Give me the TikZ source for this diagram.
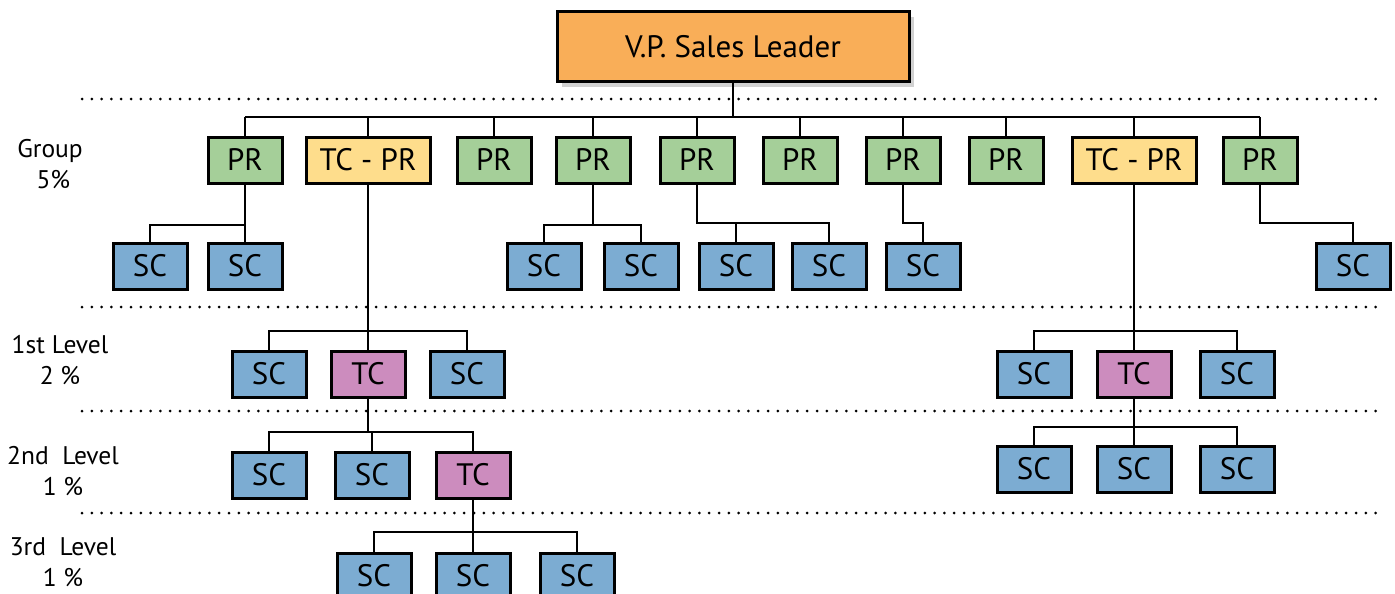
\documentclass[tikz,border=0pt]{standalone}
\usepackage{fontspec}
\setmainfont{PT Sans}
\usetikzlibrary{shadows}
\definecolor{vporange}{RGB}{249,174,88}
\definecolor{prgreen}{RGB}{165,207,153}
\definecolor{tcyellow}{RGB}{254,221,140}
\definecolor{scblue}{RGB}{124,172,210}
\definecolor{tcpink}{RGB}{204,140,190}
\tikzset{
  box/.style={draw=black, line width=3pt, inner sep=0pt, minimum height=46pt,
    font=\fontsize{31}{34}\selectfont, text=black},
  prbox/.style={box, fill=prgreen, minimum width=74pt},
  tcprbox/.style={box, fill=tcyellow, minimum width=124pt},
  scbox/.style={box, fill=scblue, minimum width=74pt},
  tcbox/.style={box, fill=tcpink, minimum width=74pt},
  vpbox/.style={box, fill=vporange, minimum width=352pt, minimum height=70pt,
    drop shadow={opacity=0.3, shadow xshift=5pt, shadow yshift=-5pt, fill=black!60}},
  conn/.style={draw=black, line width=2.8pt},
  dots/.style={draw=black, line width=3pt, line cap=round, dash pattern=on 0pt off 9.8pt},
  lvl/.style={font=\fontsize{25.5}{31}\selectfont, align=center, inner sep=0pt}
}
\begin{document}
\begin{tikzpicture}[x=1pt,y=-1pt]
\useasboundingbox (0,0) rectangle (1395,594);
% dotted level separators
\coordinate (d1a) at (82,99);   \coordinate (d1b) at (1385,99);
\coordinate (d2a) at (82,307);  \coordinate (d2b) at (1385,307);
\coordinate (d3a) at (82,411);  \coordinate (d3b) at (1385,411);
\coordinate (d4a) at (82,513);  \coordinate (d4b) at (1385,513);
\draw[dots] (d1a) -- (d1b);
\draw[dots] (d2a) -- (d2b);
\draw[dots] (d3a) -- (d3b);
\draw[dots] (d4a) -- (d4b);

% level labels
\node[lvl] (lg) at (50,164) {Group\\\ 5\%};
\node[lvl] (l1) at (60,360) {1st Level\\2 \%};
\node[lvl] (l2) at (63,471) {2nd\ \ Level\\1 \%};
\node[lvl] (l3) at (63,562) {3rd\ \ Level\\1 \%};

% bus coordinates
\coordinate (bus0) at (0,117);
\coordinate (bA) at (0,225);
\coordinate (bB) at (0,223);
\coordinate (bC) at (0,331);
\coordinate (bD) at (0,432);
\coordinate (bE) at (0,532);
\coordinate (bF) at (0,427);

% top
\node[vpbox] (vp) at (733,47) {V.P. Sales Leader};

% group row
\node[prbox] (p1) at (245,160) {PR};
\node[tcprbox] (t1) at (368,160) {TC - PR};
\node[prbox] (p2) at (494,160) {PR};
\node[prbox] (p3) at (593,160) {PR};
\node[prbox] (p4) at (697,160) {PR};
\node[prbox] (p5) at (800,160) {PR};
\node[prbox] (p6) at (903,160) {PR};
\node[prbox] (p7) at (1006,160) {PR};
\node[tcprbox] (t2) at (1134,160) {TC - PR};
\node[prbox] (p8) at (1260,160) {PR};

% group SC row
\node[scbox] (s1) at (150,266) {SC};
\node[scbox] (s2) at (245,266) {SC};
\node[scbox] (s3) at (544,266) {SC};
\node[scbox] (s4) at (641,266) {SC};
\node[scbox] (s5) at (736,266) {SC};
\node[scbox] (s6) at (829,266) {SC};
\node[scbox] (s7) at (923,266) {SC};
\node[scbox] (s8) at (1353,266) {SC};

% 1st level
\node[scbox] (a1) at (269,374) {SC};
\node[tcbox] (a2) at (368,374) {TC};
\node[scbox] (a3) at (467,374) {SC};
\node[scbox] (a4) at (1034,374) {SC};
\node[tcbox] (a5) at (1134,374) {TC};
\node[scbox] (a6) at (1237,374) {SC};

% 2nd level
\node[scbox] (c1) at (269,475) {SC};
\node[scbox] (c2) at (372,475) {SC};
\node[tcbox] (c3) at (473,475) {TC};
\node[scbox] (c4) at (1034,469) {SC};
\node[scbox] (c5) at (1134,469) {SC};
\node[scbox] (c6) at (1237,469) {SC};

% 3rd level
\node[scbox] (e1) at (374,576) {SC};
\node[scbox] (e2) at (473,576) {SC};
\node[scbox] (e3) at (577,576) {SC};

% connectors: top bus
\draw[conn] (vp.south) -- (vp.south |- bus0);
\draw[conn] (p1.north |- bus0) -- (p8.north |- bus0);
\foreach \n in {p1,t1,p2,p3,p4,p5,p6,p7,t2,p8}
  \draw[conn] (\n.north) -- (\n.north |- bus0);

% PR -> SC
\draw[conn] (p1.south) -- (s2.north);
\draw[conn] (p1.south |- bA) -| (s1.north);
\draw[conn] (p3.south) -- (p3.south |- bA);
\draw[conn] (s3.north) |- (s4.north |- bA) -- (s4.north);
\draw[conn] (p4.south) |- (s6.north |- bB) -- (s6.north);
\draw[conn] (s5.north) -- (s5.north |- bB);
\draw[conn] (p6.south) |- (s7.north |- bB) -- (s7.north);
\draw[conn] (p8.south) |- (s8.north |- bB) -- (s8.north);

% TC-PR left -> 1st level
\draw[conn] (t1.south) -- (a2.north);
\draw[conn] (a1.north) |- (a3.north |- bC) -- (a3.north);
% TC -> 2nd level
\draw[conn] (a2.south) -- (a2.south |- bD);
\draw[conn] (c1.north) |- (c3.north |- bD) -- (c3.north);
\draw[conn] (c2.north) -- (c2.north |- bD);
% TC -> 3rd level
\draw[conn] (c3.south) -- (e2.north);
\draw[conn] (e1.north) |- (e3.north |- bE) -- (e3.north);

% TC-PR right -> 1st level
\draw[conn] (t2.south) -- (a5.north);
\draw[conn] (a4.north) |- (a6.north |- bC) -- (a6.north);
% TC right -> 2nd level
\draw[conn] (a5.south) -- (c5.north);
\draw[conn] (c4.north) |- (c6.north |- bF) -- (c6.north);
\end{tikzpicture}
\end{document}
